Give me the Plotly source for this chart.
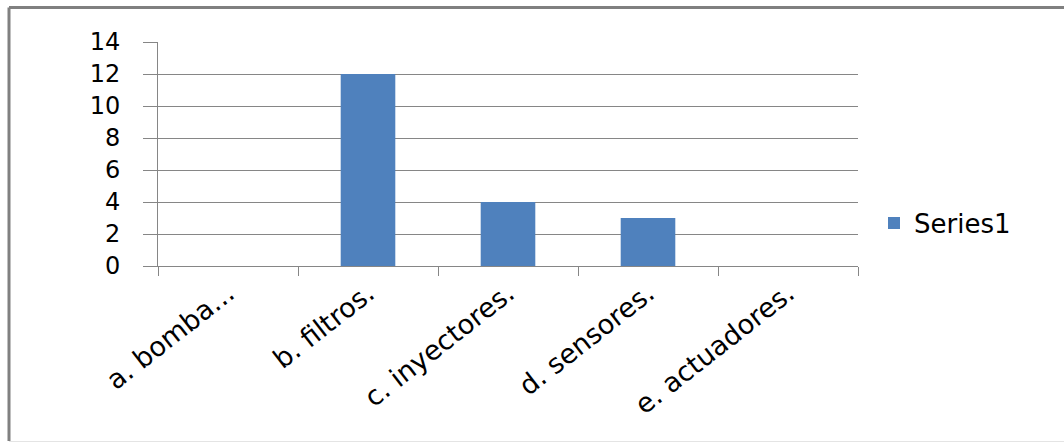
import plotly.graph_objects as go

categories = ["a. bomba...", "b. filtros.", "c. inyectores.", "d. sensores.", "e. actuadores."]
series1 = [0, 12, 4, 3, 0]
y_ticks = [0, 2, 4, 6, 8, 10, 12, 14]

W, H = 1064, 443
L, R, T, B = 158, 858, 42, 266  # plot area in pixels


def px_x(p):
    return (p - L) / (R - L)


def px_y(p):
    return (B - p) / (B - T)


grid = "#868686"
font = dict(family="DejaVu Sans", size=24, color="#000000")
xfont = dict(family="DejaVu Sans", size=27, color="#000000")
lfont = dict(family="DejaVu Sans", size=26, color="#000000")

fig = go.Figure()
fig.add_trace(go.Bar(
    x=categories, y=series1, name="Series1",
    marker=dict(color="#4F81BD", line=dict(width=0)),
))

fig.update_layout(
    width=W, height=H,
    margin=dict(l=L, r=W - R, t=T, b=H - B, pad=0),
    paper_bgcolor="white", plot_bgcolor="white",
    bargap=0.61,
    showlegend=True,
    legend=dict(
        x=px_x(874), y=px_y(223), xanchor="left", yanchor="middle",
        font=lfont, bgcolor="rgba(0,0,0,0)", itemwidth=30,
    ),
    xaxis=dict(
        type="category", tickson="boundaries", ticks="outside", ticklen=9,
        tickcolor=grid, tickwidth=1, showline=True, linecolor=grid, linewidth=1,
        showgrid=False, tickangle=-38, tickfont=xfont,
    ),
    yaxis=dict(
        range=[0, 14], tickvals=y_ticks, ticks="outside", ticklen=14,
        tickcolor=grid, tickwidth=1, showline=True, linecolor=grid, linewidth=1,
        showgrid=True, gridcolor=grid, gridwidth=1, zeroline=False,
        tickfont=font, ticklabelstandoff=18,
    ),
    shapes=[
        # chart frame
        dict(type="line", xref="paper", yref="paper", x0=px_x(9), x1=px_x(1070),
             y0=px_y(7.5), y1=px_y(7.5), line=dict(color="#808080", width=3)),
        dict(type="line", xref="paper", yref="paper", x0=px_x(9), x1=px_x(9),
             y0=px_y(7.5), y1=px_y(441), line=dict(color="#808080", width=3)),
        dict(type="line", xref="paper", yref="paper", x0=px_x(9), x1=px_x(1070),
             y0=px_y(441.5), y1=px_y(441.5), line=dict(color="#e4e4e4", width=1)),
    ],
)

fig.write_html("out.html")
